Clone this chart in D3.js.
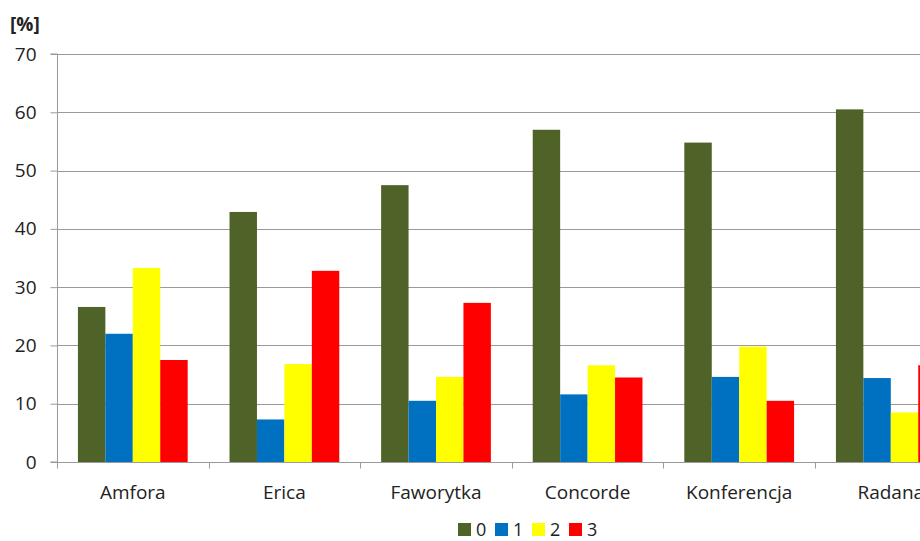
<!DOCTYPE html>
<html>
<head>
<meta charset="utf-8">
<script src="https://cdn.jsdelivr.net/npm/d3@7"></script>
<style>
  body { margin: 0; background: #fff; }
  svg { display: block; font-family: "Open Sans", sans-serif; }
</style>
</head>
<body>
<script>
/*** data ***/
const varieties = ["Amfora", "Erica", "Faworytka", "Concorde", "Konferencja", "Radana"];
const classes = ["0", "1", "2", "3"];
const class0 = [26.6, 42.9, 47.5, 57.0, 54.8, 60.5];
const class1 = [22.0, 7.3, 10.5, 11.6, 14.6, 14.4];
const class2 = [33.3, 16.8, 14.6, 16.6, 19.8, 8.5];
const class3 = [17.5, 32.8, 27.3, 14.5, 10.5, 16.6];
const yTicks = [0, 10, 20, 30, 40, 50, 60, 70];
const colors = ["#4f6228", "#0070c0", "#ffff00", "#ff0000"];

const width = 920, height = 541;
const margin = { top: 54, left: 57, bottom: 79 };
const bandW = 151.6;
const fontSize = 19;

const seriesVals = [class0, class1, class2, class3];
const rows = varieties.map((v, i) => ({ name: v, values: seriesVals.map(s => s[i]) }));

/*** draw ***/
const svg = d3.select("body").append("svg")
  .attr("width", width)
  .attr("height", height);

const x0 = d3.scaleBand()
  .domain(varieties)
  .range([margin.left, margin.left + bandW * varieties.length])
  .paddingInner(0.276)
  .paddingOuter(0.138);

const x1 = d3.scaleBand()
  .domain(classes)
  .range([0, x0.bandwidth()]);

const y = d3.scaleLinear()
  .domain([0, 70])
  .range([height - margin.bottom, margin.top]);

// grid
svg.append("g")
  .selectAll("line")
  .data(yTicks.slice(1))
  .join("line")
  .attr("x1", margin.left)
  .attr("x2", width)
  .attr("y1", d => Math.round(y(d)) + 0.5)
  .attr("y2", d => Math.round(y(d)) + 0.5)
  .attr("stroke", "#9a9a9a")
  .attr("stroke-width", 1.2);

// bars
svg.append("g")
  .selectAll("g")
  .data(rows)
  .join("g")
  .attr("transform", d => `translate(${x0(d.name)},0)`)
  .selectAll("rect")
  .data(d => d.values.map((v, k) => ({ k, v })))
  .join("rect")
  .attr("x", d => x1(classes[d.k]))
  .attr("width", x1.bandwidth())
  .attr("y", d => y(d.v))
  .attr("height", d => y(0) - y(d.v))
  .attr("fill", d => colors[d.k]);

// y axis
const yAxis = svg.append("g")
  .attr("transform", `translate(${margin.left + 0.5},0)`)
  .call(d3.axisLeft(y).tickValues(yTicks).tickSize(7).tickPadding(14));
yAxis.select(".domain").attr("stroke", "#9a9a9a").attr("d", `M-7,${y(70)}H0V${y(0)}H-7`);
yAxis.selectAll(".tick line").attr("stroke", "#9a9a9a");
yAxis.selectAll(".tick text")
  .attr("font-size", fontSize)
  .attr("fill", "#222")
  .attr("font-family", "Open Sans, sans-serif");

// x axis
const xAxis = svg.append("g")
  .attr("transform", `translate(0,${Math.round(y(0)) + 0.5})`);
xAxis.append("line")
  .attr("x1", margin.left)
  .attr("x2", width)
  .attr("stroke", "#9a9a9a");
const boundaries = d3.range(varieties.length + 1).map(i => Math.round(margin.left + i * bandW));
xAxis.selectAll("line.tk")
  .data(boundaries)
  .join("line")
  .attr("class", "tk")
  .attr("x1", d => d + 0.5)
  .attr("x2", d => d + 0.5)
  .attr("y1", 0)
  .attr("y2", 6)
  .attr("stroke", "#9a9a9a");
xAxis.selectAll("text")
  .data(varieties)
  .join("text")
  .attr("x", d => x0(d) + x0.bandwidth() / 2)
  .attr("y", 36)
  .attr("text-anchor", "middle")
  .attr("font-size", fontSize)
  .attr("fill", "#222")
  .text(d => d);

// unit label
svg.append("text")
  .attr("x", 10)
  .attr("y", 31)
  .attr("font-size", fontSize)
  .attr("font-weight", "bold")
  .attr("fill", "#222")
  .text("[%]");

// legend
const legend = svg.append("g").attr("transform", "translate(458,523)");
const item = legend.selectAll("g")
  .data(classes)
  .join("g")
  .attr("transform", (d, i) => `translate(${i * 37},0)`);
item.append("rect")
  .attr("width", 13)
  .attr("height", 13)
  .attr("fill", (d, i) => colors[i]);
item.append("text")
  .attr("x", 18)
  .attr("y", 13)
  .attr("font-size", 18)
  .attr("fill", "#222")
  .text(d => d);
</script>
</body>
</html>
